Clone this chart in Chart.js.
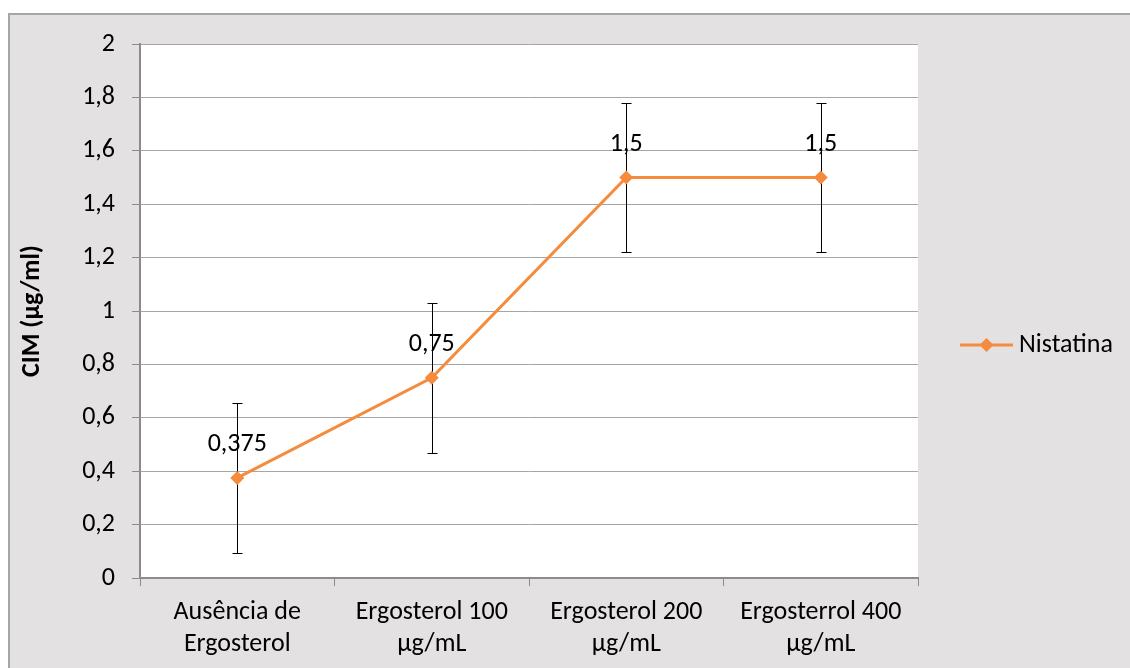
<!DOCTYPE html>
<html>
<head>
<meta charset="utf-8">
<script src="https://cdn.jsdelivr.net/npm/chart.js@4"></script>
<style>
  html,body{margin:0;padding:0;background:#fff;width:1130px;height:668px;overflow:hidden}
  .panel{position:absolute;left:8px;top:13px;right:0;bottom:0;background:#e3e1e2;border-top:2px solid #a6a6a6;border-left:2px solid #a6a6a6}
  .wrap{position:absolute;left:0;top:0;width:1130px;height:668px}
</style>
</head>
<body>
<div class="panel"></div>
<div class="wrap"><canvas id="c" role="img" aria-label="CIM da Nistatina com e sem ergosterol"></canvas></div>
<script>
const CATEGORIAS=[['Ausência de','Ergosterol'],['Ergosterol 100','µg/mL'],['Ergosterol 200','µg/mL'],['Ergosterrol 400','µg/mL']]
const NISTATINA=[0.375,0.75,1.5,1.5]
const ERRO=[0.28,0.28,0.28,0.28]
const Y_MIN=0,Y_MAX=2,Y_STEP=0.2

const FONT="Carlito, Calibri, Lato, sans-serif"
const FS=26
const orange='#f58b3c',gc='#a6a6a6',ac='#8c8c8c'
const fmt=v=>String(Number(v.toFixed(3))).replace('.',',')

const plotBg={
  id:'plotBg',
  beforeDraw(chart){
    const {ctx,chartArea:a}=chart
    ctx.save();ctx.fillStyle='#fff'
    ctx.fillRect(a.left,a.top,a.right-a.left,a.bottom-a.top)
    ctx.restore()
  }
}

const errorBars={
  id:'errorBars',
  beforeDatasetsDraw(chart){
    const {ctx,scales:{x,y}}=chart
    ctx.save()
    ctx.strokeStyle='#000';ctx.lineWidth=1
    NISTATINA.forEach((v,i)=>{
      const px=Math.round(x.getPixelForValue(i))+0.5
      const t=Math.round(y.getPixelForValue(v+ERRO[i]))+0.5
      const b=Math.round(y.getPixelForValue(v-ERRO[i]))+0.5
      ctx.beginPath()
      ctx.moveTo(px,t);ctx.lineTo(px,b)
      ctx.moveTo(px-5,t);ctx.lineTo(px+5,t)
      ctx.moveTo(px-5,b);ctx.lineTo(px+5,b)
      ctx.stroke()
    })
    ctx.restore()
  },
  afterDatasetsDraw(chart){
    const {ctx}=chart
    const meta=chart.getDatasetMeta(0)
    ctx.save()
    ctx.fillStyle='#000';ctx.font=FS+'px '+FONT
    ctx.textAlign='center';ctx.textBaseline='middle'
    meta.data.forEach((pt,i)=>ctx.fillText(fmt(NISTATINA[i]),pt.x,pt.y-33))
    // legenda
    const ca=chart.chartArea
    const lx=ca.right+42,ly=(ca.top+ca.bottom)/2+34
    ctx.strokeStyle=orange;ctx.lineWidth=3
    ctx.beginPath();ctx.moveTo(lx,ly);ctx.lineTo(lx+53,ly);ctx.stroke()
    ctx.fillStyle=orange;ctx.beginPath()
    ctx.moveTo(lx+26.5,ly-7);ctx.lineTo(lx+33.5,ly);ctx.lineTo(lx+26.5,ly+7);ctx.lineTo(lx+19.5,ly);ctx.closePath();ctx.fill()
    ctx.fillStyle='#000';ctx.textAlign='left'
    ctx.fillText(chart.data.datasets[0].label,lx+59,ly)
    ctx.restore()
  }
}

new Chart(document.getElementById('c'),{
  type:'line',
  data:{labels:CATEGORIAS,datasets:[{
    label:'Nistatina',data:NISTATINA,borderColor:orange,backgroundColor:orange,
    borderWidth:3,pointStyle:'rectRot',pointRadius:7,pointBorderWidth:0,
    pointBackgroundColor:orange,tension:0
  }]},
  options:{
    responsive:true,maintainAspectRatio:false,animation:false,
    layout:{padding:{top:44,right:212,bottom:0,left:0}},
    plugins:{legend:{display:false},tooltip:{enabled:false}},
    scales:{
      x:{
        offset:true,
        grid:{offset:true,drawOnChartArea:false,drawTicks:true,tickLength:8,color:ac,lineWidth:1},
        border:{display:true,color:ac,width:2},
        ticks:{color:'#000',font:{family:FONT,size:FS,lineHeight:1.23},padding:11,maxRotation:0,autoSkip:false},
        afterFit(s){s.height=90}
      },
      y:{
        min:Y_MIN,max:Y_MAX,
        grid:{color:gc,lineWidth:1,tickLength:8,tickColor:ac},
        border:{display:true,color:ac,width:2},
        ticks:{stepSize:Y_STEP,color:'#000',font:{family:FONT,size:FS},padding:17,callback:v=>fmt(v)},
        title:{display:true,text:'CIM (µg/ml)',color:'#000',padding:{top:17,bottom:0},font:{family:FONT,size:FS,weight:'bold'}},
        afterFit(s){s.width=140}
      }
    }
  },
  plugins:[plotBg,errorBars]
})
</script>
</body>
</html>
